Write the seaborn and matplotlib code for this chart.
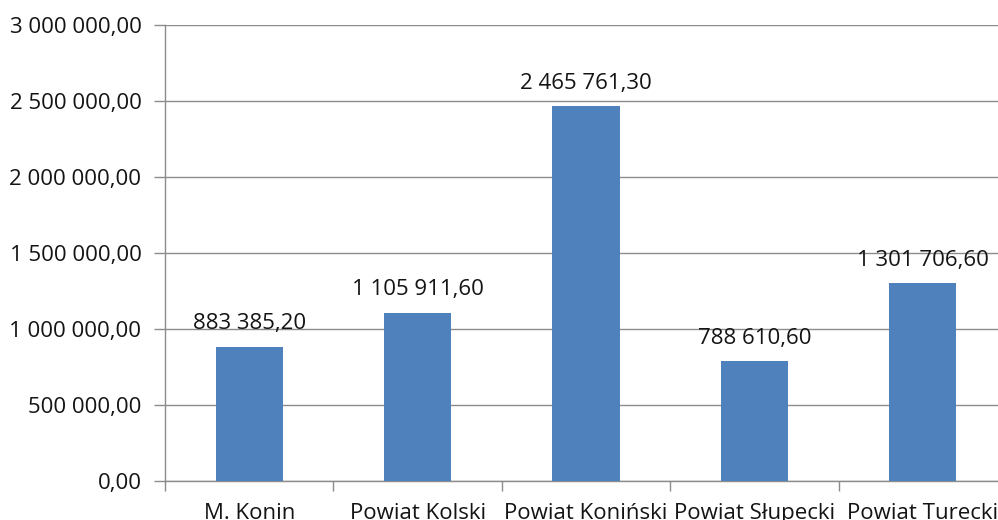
import matplotlib
matplotlib.use("Agg")
import matplotlib.pyplot as plt
from matplotlib.ticker import FuncFormatter, FixedLocator, MultipleLocator
import seaborn as sns
import pandas as pd

categories = ["M. Konin", "Powiat Kolski", "Powiat Koniński", "Powiat Słupecki", "Powiat Turecki"]
values = [883385.20, 1105911.60, 2465761.30, 788610.60, 1301706.60]

sns.set_theme(style="white")
plt.rcParams["font.family"] = ["Open Sans", "DejaVu Sans"]

def pl_number(v, pos=None):
    s = f"{v:,.2f}"
    return s.replace(",", " ").replace(".", ",")

df = pd.DataFrame({"region": categories, "value": values})

fig = plt.figure(figsize=(9.98, 5.20), dpi=100)
ax = fig.add_axes([165 / 998, 39 / 520, 842 / 998, 456 / 520])

sns.barplot(data=df, x="region", y="value", color="#4F81BD", width=0.4,
            saturation=1, linewidth=0, ax=ax, zorder=3)

ax.set_ylim(0, 3000000)
ax.set_xlim(-0.5, len(categories) - 0.5)
ax.yaxis.set_major_locator(MultipleLocator(500000))
ax.yaxis.set_major_formatter(FuncFormatter(pl_number))
ax.grid(axis="y", color="#8C8C8C", linewidth=1.0, zorder=0)
ax.grid(axis="x", visible=False)

for side in ("top", "right"):
    ax.spines[side].set_visible(False)
for side in ("left", "bottom"):
    ax.spines[side].set_color("#8C8C8C")
    ax.spines[side].set_linewidth(1.0)

ax.tick_params(axis="y", which="major", left=True, length=8, width=1,
               color="#8C8C8C", labelsize=16, labelcolor="#141414", pad=9)
ax.tick_params(axis="x", which="major", bottom=False, labelsize=16,
               labelcolor="#141414", pad=10)
ax.xaxis.set_minor_locator(FixedLocator([i - 0.5 for i in range(len(categories) + 1)]))
ax.tick_params(axis="x", which="minor", bottom=True, length=7, width=1,
               color="#8C8C8C", direction="out")
ax.set_xlabel("")
ax.set_ylabel("")

for i, v in enumerate(values):
    ax.annotate(pl_number(v), xy=(i, v), xytext=(0, 9), textcoords="offset points",
                ha="center", va="bottom", fontsize=16, color="#141414")

fig.savefig("out.png", dpi=100, facecolor="white")
